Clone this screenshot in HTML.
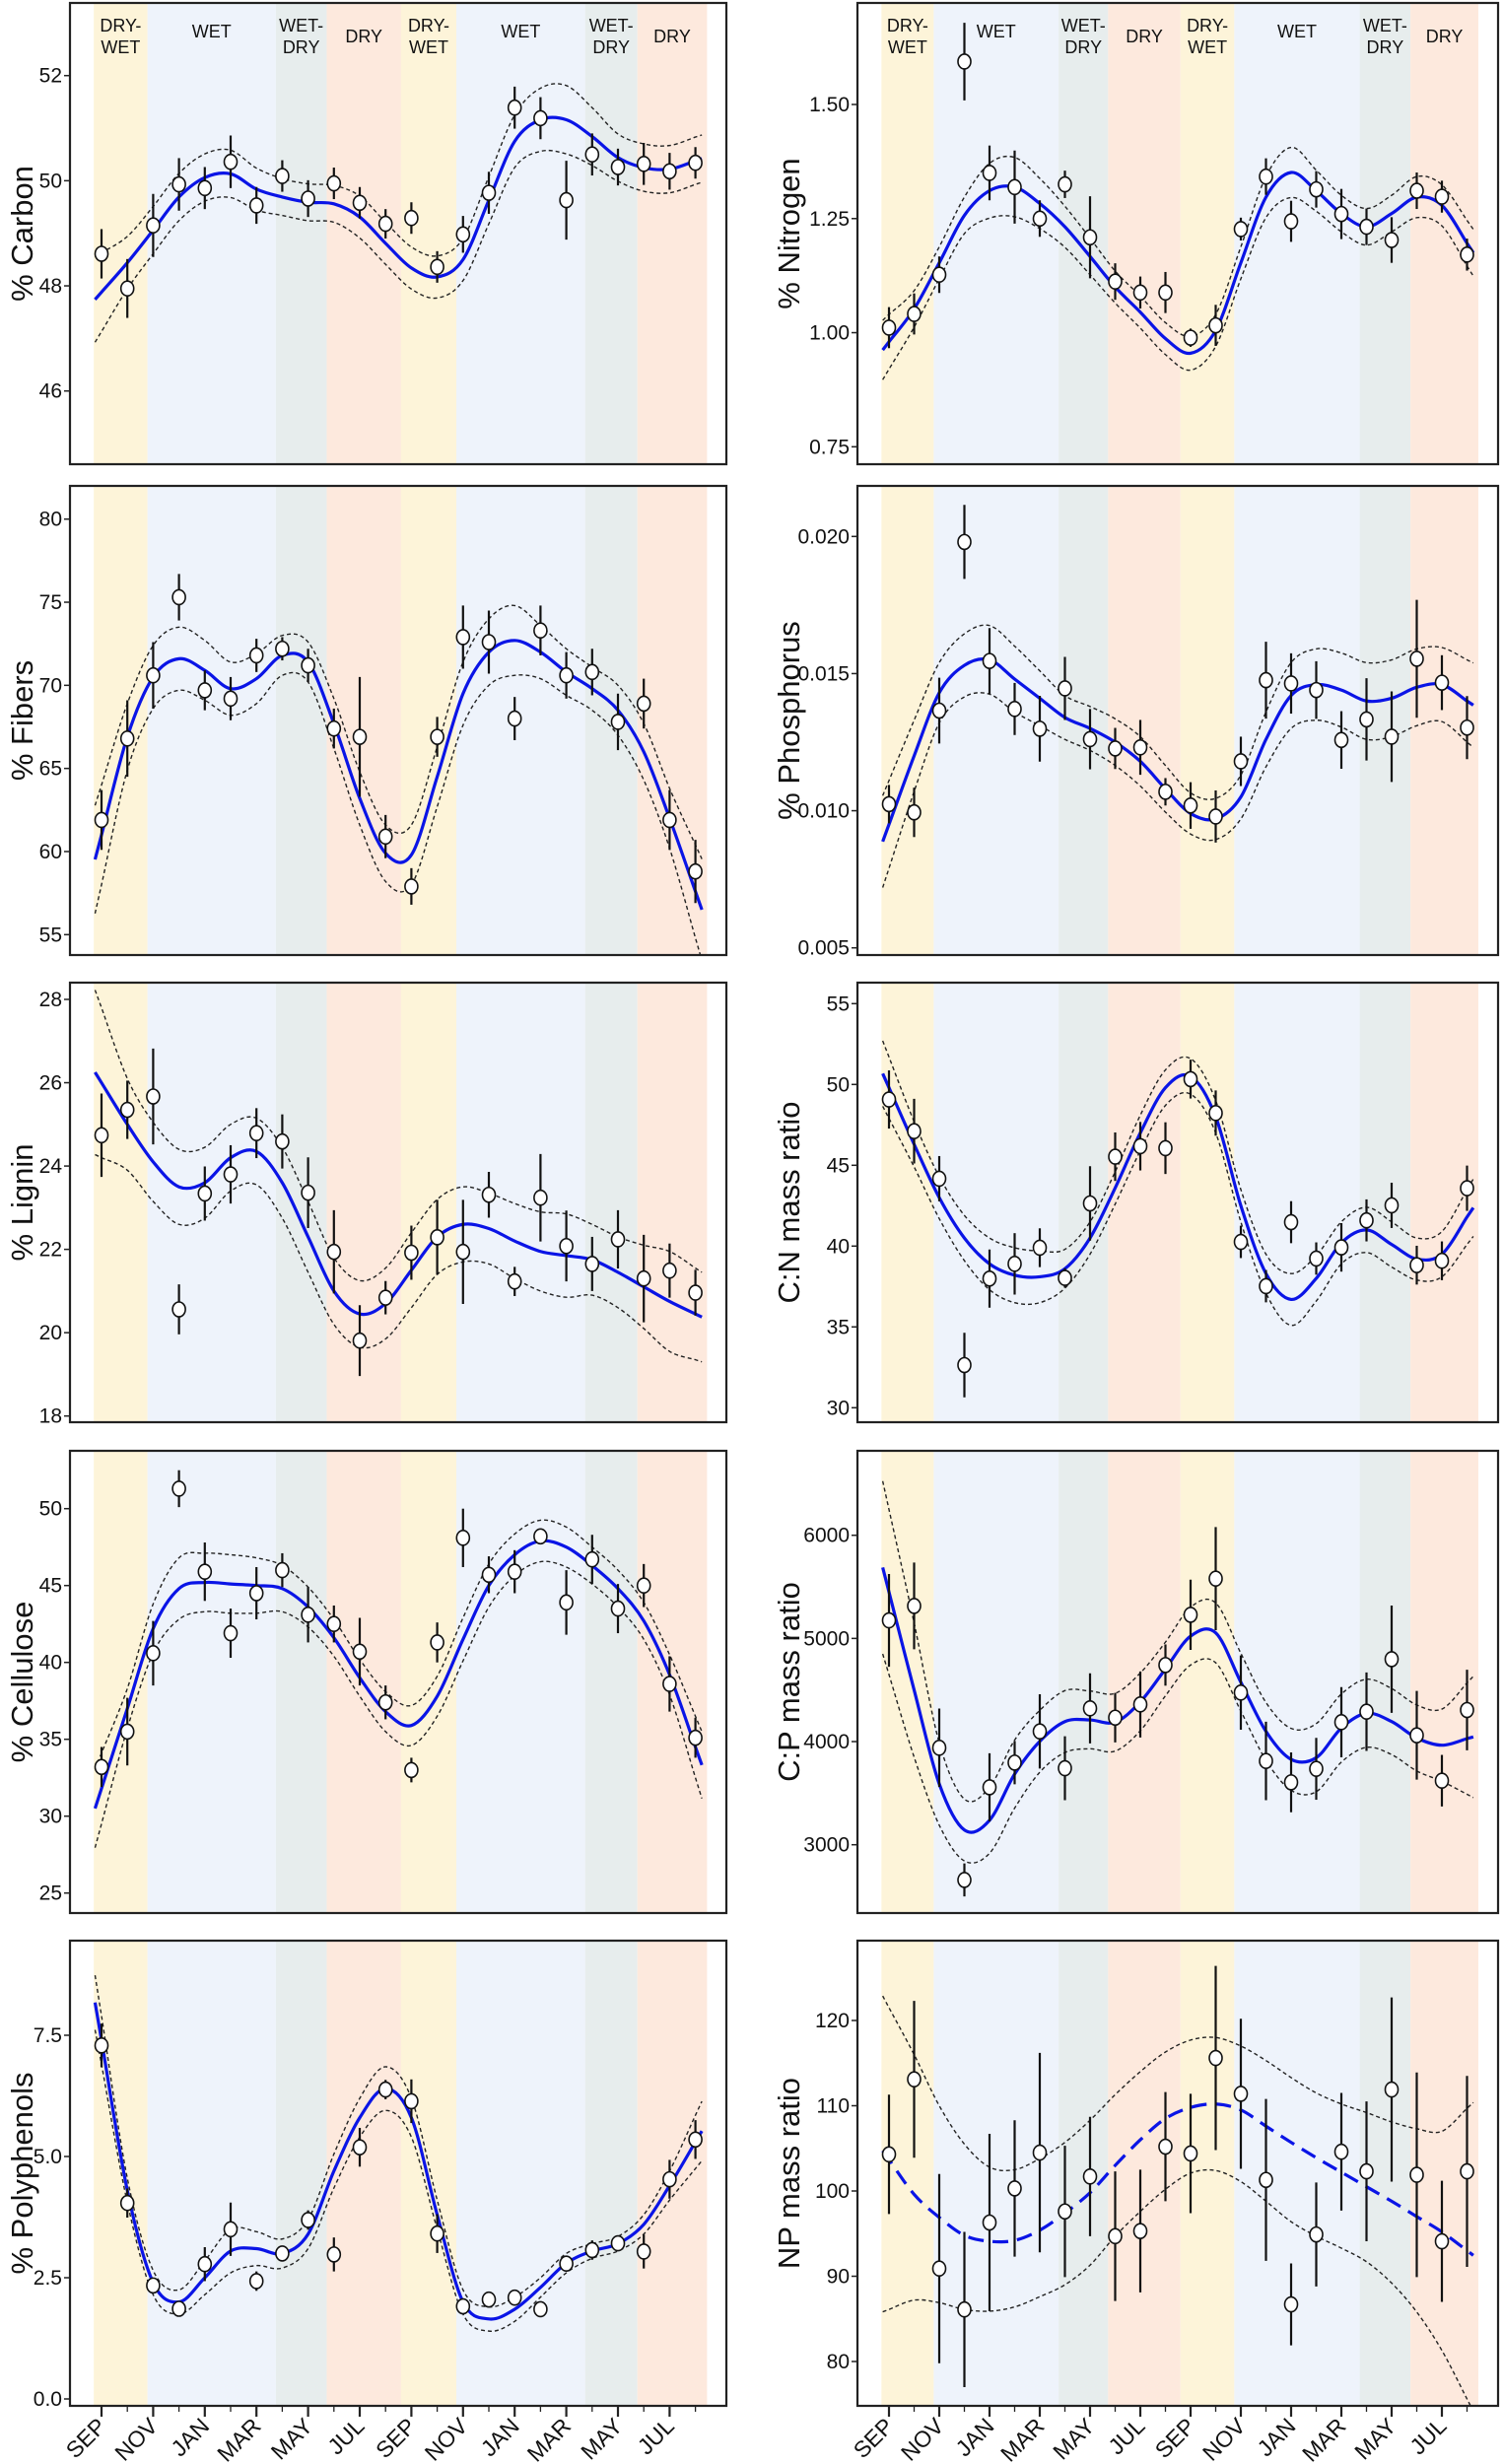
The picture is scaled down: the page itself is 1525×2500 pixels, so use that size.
<!DOCTYPE html>
<html><head><meta charset="utf-8">
<style>
html,body{margin:0;padding:0;background:#fff;}
svg{display:block;}
text{font-family:"Liberation Sans",sans-serif;}
.tick{font-family:"Liberation Sans Narrow","Liberation Sans",sans-serif;font-size:21px;fill:#111;}
.title{font-size:31px;fill:#111;}
.season{font-size:18px;fill:#111;}
.xl{font-family:"Liberation Sans Narrow","Liberation Sans",sans-serif;font-size:23px;fill:#111;}
</style></head>
<body>
<svg id="fig" width="1525" height="2500" viewBox="0 0 1525 2500" xmlns="http://www.w3.org/2000/svg"></svg>
<script>
// ---- shared categories ----
const monthLabels = ["SEP","NOV","JAN","MAR","MAY","JUL","SEP","NOV","JAN","MAR","MAY","JUL"];
const seasonNames = ["DRY-WET","WET","WET-DRY","DRY","DRY-WET","WET","WET-DRY","DRY"];
const seasonEdges = [-0.3,1.78,6.75,8.72,11.6,13.74,18.73,20.75,23.45];

// ---- Carbon ----
const carbonMean = [48.61,47.95,49.15,49.93,49.86,50.36,49.53,50.09,49.66,49.95,49.58,49.18,49.29,48.36,48.98,49.77,51.39,51.19,49.63,50.5,50.26,50.32,50.18,50.34];
const carbonErr = [0.47,0.56,0.6,0.5,0.4,0.5,0.35,0.3,0.35,0.3,0.3,0.28,0.3,0.3,0.35,0.4,0.4,0.4,0.75,0.4,0.35,0.4,0.35,0.3];
const carbonFit = [47.88,48.44,49.06,49.69,50.06,50.13,49.84,49.69,49.59,49.56,49.31,48.81,48.34,48.17,48.5,49.63,50.75,51.16,51.16,50.84,50.44,50.25,50.22,50.38];
const carbonCI = [0.75,0.5,0.45,0.45,0.45,0.45,0.4,0.35,0.35,0.35,0.4,0.4,0.4,0.4,0.4,0.45,0.5,0.6,0.65,0.55,0.45,0.45,0.45,0.45];
const carbonTicks = [46,48,50,52];

// ---- Fibers ----
const fiberMean = [61.9,66.8,70.6,75.3,69.7,69.2,71.8,72.2,71.2,67.4,66.9,60.9,57.9,66.9,72.9,72.6,68.0,73.3,70.6,70.8,67.8,68.9,61.9,58.8];
const fiberErr = [1.8,2.3,2.0,1.4,1.2,1.3,1.0,0.7,1.0,1.2,3.6,1.3,1.1,1.2,1.9,1.9,1.3,1.5,1.4,1.4,1.7,1.5,1.8,1.9];
const fiberFit = [61.0,66.9,70.5,71.6,70.9,69.8,70.4,71.8,71.4,67.7,63.2,59.9,59.8,64.5,69.5,72.0,72.7,72.0,70.8,69.8,68.5,66.0,62.0,57.6];
const fiberCI = [3.0,2.0,1.9,1.9,1.8,1.6,1.5,1.2,1.2,1.5,1.6,1.7,1.8,1.8,1.9,2.0,2.1,1.6,1.4,1.3,1.5,1.7,1.8,2.8];
const fiberTicks = [55,60,65,70,75,80];

// ---- Lignin ----
const ligninMean = [24.74,25.35,25.67,20.56,23.34,23.8,24.79,24.59,23.36,21.94,19.81,20.84,21.92,22.29,21.94,23.31,21.23,23.24,22.08,21.65,22.24,21.3,21.49,20.96];
const ligninErr = [1.0,0.7,1.15,0.6,0.65,0.7,0.6,0.65,0.85,1.0,0.85,0.4,0.65,0.9,1.25,0.55,0.35,1.05,0.85,0.65,0.7,1.05,0.65,0.55];
const ligninFit = [26.0,25.0,24.1,23.5,23.6,24.2,24.35,23.6,22.3,21.0,20.45,20.7,21.5,22.3,22.6,22.5,22.2,21.95,21.85,21.75,21.45,21.1,20.75,20.45];
const ligninCI = [1.8,1.1,0.95,0.9,0.85,0.8,0.8,0.85,0.85,0.8,0.8,0.85,0.9,0.9,0.9,0.85,0.9,0.95,1.0,0.85,0.85,1.0,1.2,1.1];
const ligninTicks = [18,20,22,24,26,28];

// ---- Cellulose ----
const celluloseMean = [33.2,35.5,40.6,51.3,45.9,41.9,44.5,46.0,43.1,42.5,40.7,37.4,33.0,41.3,48.1,45.7,45.9,48.2,43.9,46.7,43.5,45.0,38.6,35.1];
const celluloseErr = [1.3,2.2,2.1,1.2,1.9,1.6,1.7,1.1,1.8,1.2,2.2,1.1,0.8,1.3,1.9,1.2,1.4,0.5,2.1,1.6,1.6,1.4,1.8,1.3];
const celluloseFit = [31.8,37.0,42.2,44.8,45.2,45.1,45.0,44.8,43.6,41.6,39.0,36.8,35.9,37.8,41.5,45.0,47.0,47.9,47.5,46.3,44.8,42.7,39.2,34.5];
const celluloseCI = [2.3,1.3,1.6,2.0,1.9,1.9,1.8,1.5,1.3,1.2,1.2,1.3,1.3,1.3,1.4,1.4,1.35,1.35,1.3,1.2,1.2,1.2,1.3,2.0];
const celluloseTicks = [25,30,35,40,45,50];

// ---- Polyphenols ----
const polyMean = [7.29,4.04,2.34,1.86,2.78,3.5,2.43,3.0,3.69,2.98,5.19,6.38,6.14,3.41,1.91,2.05,2.09,1.85,2.79,3.07,3.21,3.04,4.53,5.35];
const polyErr = [0.45,0.3,0.1,0.1,0.35,0.55,0.2,0.15,0.2,0.35,0.4,0.2,0.45,0.4,0.05,0.15,0.05,0.1,0.1,0.2,0.1,0.35,0.4,0.4];
const polyFit = [7.4,4.3,2.4,2.0,2.5,3.05,3.1,3.0,3.4,4.7,5.8,6.4,5.8,3.8,2.0,1.65,1.85,2.3,2.8,3.05,3.2,3.6,4.4,5.3];
const polyCI = [0.5,0.25,0.25,0.25,0.35,0.45,0.35,0.3,0.3,0.35,0.4,0.45,0.4,0.3,0.25,0.25,0.25,0.2,0.2,0.15,0.15,0.2,0.3,0.55];
const polyTicks = [0,2.5,5,7.5];
const polyTickText = ["0.0","2.5","5.0","7.5"];

// ---- Nitrogen ----
const nitrogenMean = [1.011,1.041,1.127,1.594,1.35,1.319,1.25,1.325,1.209,1.112,1.088,1.088,0.989,1.016,1.227,1.342,1.244,1.314,1.26,1.232,1.203,1.311,1.298,1.171];
const nitrogenErr = [0.045,0.045,0.04,0.085,0.06,0.08,0.04,0.03,0.09,0.04,0.035,0.045,0.02,0.045,0.025,0.04,0.045,0.04,0.055,0.04,0.05,0.04,0.035,0.035];
const nitrogenFit = [0.98,1.052,1.153,1.257,1.311,1.319,1.283,1.232,1.167,1.10,1.045,0.987,0.955,1.005,1.153,1.297,1.351,1.311,1.261,1.232,1.261,1.297,1.279,1.196];
const nitrogenCI = [0.06,0.04,0.035,0.04,0.06,0.065,0.055,0.045,0.04,0.035,0.035,0.035,0.037,0.035,0.035,0.045,0.055,0.045,0.04,0.04,0.04,0.045,0.045,0.05];
const nitrogenTicks = [0.75,1.0,1.25,1.5];
const nitrogenTickText = ["0.75","1.00","1.25","1.50"];

// ---- Phosphorus ----
const phosMean = [0.01024,0.00994,0.01365,0.0198,0.01546,0.01371,0.01299,0.01446,0.01261,0.01227,0.01231,0.01069,0.01019,0.00979,0.0118,0.01476,0.01464,0.0144,0.01258,0.01333,0.0127,0.01554,0.01467,0.01303];
const phosErr = [0.0007,0.0009,0.0012,0.00135,0.0012,0.00095,0.0012,0.00115,0.0011,0.00075,0.001,0.0005,0.00085,0.00095,0.0009,0.0014,0.0011,0.00105,0.00105,0.0015,0.00165,0.00215,0.001,0.00115];
const phosFit = [0.0095,0.012,0.0143,0.0153,0.0155,0.0148,0.0141,0.0134,0.013,0.0125,0.0118,0.0108,0.0099,0.0097,0.0105,0.0126,0.0142,0.0146,0.0144,0.014,0.0141,0.0145,0.0146,0.014];
const phosCI = [0.0016,0.0013,0.0011,0.00115,0.00125,0.0012,0.001,0.0008,0.0008,0.00085,0.0009,0.00085,0.00075,0.00075,0.0008,0.001,0.0012,0.0013,0.00135,0.0014,0.0014,0.0014,0.00135,0.0015];
const phosTicks = [0.005,0.01,0.015,0.02];
const phosTickText = ["0.005","0.010","0.015","0.020"];

// ---- C:N ----
const cnMean = [49.07,47.11,44.17,32.64,37.99,38.9,39.9,38.03,42.64,45.53,46.18,46.06,50.33,48.23,40.26,37.52,41.48,39.23,39.92,41.59,42.52,38.82,39.09,43.58];
const cnErr = [1.8,2.0,1.4,2.0,1.8,1.9,1.2,0.6,2.3,1.5,1.5,1.6,1.2,1.4,1.0,1.0,1.3,1.0,1.5,1.3,1.4,1.2,1.2,1.4];
const cnFit = [49.8,46.3,43.0,40.5,38.9,38.2,38.1,38.6,40.5,43.6,47.0,49.8,50.5,48.0,42.5,38.3,36.7,38.0,40.2,41.0,40.1,39.2,39.5,41.8];
const cnCI = [1.9,1.4,1.3,1.4,1.6,1.7,1.6,1.2,1.0,1.0,1.1,1.1,1.1,1.0,1.0,1.2,1.6,1.4,1.3,1.4,1.4,1.3,1.4,1.7];
const cnTicks = [30,35,40,45,50,55];

// ---- C:P ----
const cpMean = [5175,5315,3940,2659,3557,3796,4099,3742,4322,4232,4360,4742,5229,5580,4475,3812,3605,3736,4188,4290,4799,4061,3621,4306];
const cpErr = [450,420,380,160,330,210,360,310,340,240,320,200,340,500,360,380,290,300,340,380,520,430,250,390];
const cpFit = [5450,4500,3590,3143,3237,3685,4003,4194,4210,4188,4385,4704,5022,5054,4576,4099,3828,3844,4131,4274,4194,4035,3965,4029];
const cpCI = [800,650,400,300,320,330,300,300,280,280,280,260,280,290,280,280,300,330,330,330,320,320,350,540];
const cpTicks = [3000,4000,5000,6000];

// ---- N:P ----
const npMean = [104.3,113.1,90.9,86.1,96.3,100.3,104.5,97.6,101.7,94.7,95.3,105.2,104.4,115.6,111.4,101.3,86.7,94.9,104.6,102.3,111.9,101.9,94.1,102.3];
const npErr = [7,9.2,11.1,9.1,10.4,8.0,11.7,7.7,7.0,7.6,7.2,6.4,7.0,10.8,8.8,9.5,4.8,6.1,6.9,8.2,10.8,12.0,7.1,11.2];
const npFit = [103.7,99.6,96.9,94.8,94.1,94.2,95.4,97.4,99.8,103.0,106.0,108.5,109.8,110.2,109.5,107.6,105.7,103.9,102.2,100.5,98.8,97.0,95.2,93.0];
const npUpper = [121.5,116,110,105.5,102.8,102.5,103.8,105.7,108.3,111.3,114,116.3,117.7,118,117,115.3,113.3,111.5,110.2,109.2,108.1,107.3,107.0,109.7];
const npLower = [86.1,87.2,86.9,86.1,85.9,86.4,87.6,89,91.3,94.7,97.6,100.2,102.1,102.4,101.1,98.8,96.4,94.7,93.3,91.7,89.2,85.8,81.3,75.6];
const npTicks = [80,90,100,110,120];

// ---- layout (pixels, not data) ----
const colL = {box:[71,737], x0:103, dm:26.2, titleX:22};
const colR = {box:[870,1520], x0:902, dm:25.5, titleX:800};
const rows = [[3,471],[493,969],[997,1443],[1472,1941],[1969,2441]];

const panels = [
 {name:"carbon",col:colL,row:0,title:"% Carbon",mean:carbonMean,err:carbonErr,fit:carbonFit,ci:carbonCI,ticks:carbonTicks,text:null,ref:[52,76.7,46,396.7]},
 {name:"fibers",col:colL,row:1,title:"% Fibers",mean:fiberMean,err:fiberErr,fit:fiberFit,ci:fiberCI,ticks:fiberTicks,text:null,ref:[80,526.7,55,948.3]},
 {name:"lignin",col:colL,row:2,title:"% Lignin",mean:ligninMean,err:ligninErr,fit:ligninFit,ci:ligninCI,ticks:ligninTicks,text:null,ref:[28,1014,18,1436.7]},
 {name:"cellulose",col:colL,row:3,title:"% Cellulose",mean:celluloseMean,err:celluloseErr,fit:celluloseFit,ci:celluloseCI,ticks:celluloseTicks,text:null,ref:[50,1530.7,25,1920.7]},
 {name:"polyphenols",col:colL,row:4,title:"% Polyphenols",mean:polyMean,err:polyErr,fit:polyFit,ci:polyCI,ticks:polyTicks,text:polyTickText,ref:[7.5,2065,0,2434]},
 {name:"nitrogen",col:colR,row:0,title:"% Nitrogen",mean:nitrogenMean,err:nitrogenErr,fit:nitrogenFit,ci:nitrogenCI,ticks:nitrogenTicks,text:nitrogenTickText,ref:[1.5,106,0.75,453.3]},
 {name:"phosphorus",col:colR,row:1,title:"% Phosphorus",mean:phosMean,err:phosErr,fit:phosFit,ci:phosCI,ticks:phosTicks,text:phosTickText,ref:[0.02,544.3,0.005,961.7]},
 {name:"cn-ratio",col:colR,row:2,title:"C:N mass ratio",mean:cnMean,err:cnErr,fit:cnFit,ci:cnCI,ticks:cnTicks,text:null,ref:[55,1018.3,30,1428.3]},
 {name:"cp-ratio",col:colR,row:3,title:"C:P mass ratio",mean:cpMean,err:cpErr,fit:cpFit,ci:cpCI,ticks:cpTicks,text:null,ref:[6000,1557.7,3000,1871.7]},
 {name:"np-ratio",col:colR,row:4,title:"NP mass ratio",mean:npMean,err:npErr,fit:npFit,up:npUpper,lo:npLower,ticks:npTicks,text:null,ref:[120,2050,80,2396],dashedFit:true}
];

const seasonColors = {"DRY-WET":"#fdf4d9","WET":"#eef3fb","WET-DRY":"#e7eded","DRY":"#fde9dd"};
const NS = "http://www.w3.org/2000/svg";
const svg = document.getElementById("fig");
const defs = document.createElementNS(NS, "defs");
svg.appendChild(defs);
function mk(tag, attrs, parent){
  const e = document.createElementNS(NS, tag);
  for (const k in attrs) e.setAttribute(k, attrs[k]);
  (parent||svg).appendChild(e);
  return e;
}
function smoothPath(pts){
  let d = "M"+pts[0][0].toFixed(2)+","+pts[0][1].toFixed(2);
  for (let i=0;i<pts.length-1;i++){
    const p0=pts[Math.max(0,i-1)], p1=pts[i], p2=pts[i+1], p3=pts[Math.min(pts.length-1,i+2)];
    const c1=[p1[0]+(p2[0]-p0[0])/6, p1[1]+(p2[1]-p0[1])/6];
    const c2=[p2[0]-(p3[0]-p1[0])/6, p2[1]-(p3[1]-p1[1])/6];
    d += " C"+c1[0].toFixed(2)+","+c1[1].toFixed(2)+" "+c2[0].toFixed(2)+","+c2[1].toFixed(2)+" "+p2[0].toFixed(2)+","+p2[1].toFixed(2);
  }
  return d;
}
function extend(vals){
  const n = vals.length;
  const s = vals[0] - (vals[1]-vals[0])*0.25;
  const e = vals[n-1] + (vals[n-1]-vals[n-2])*0.25;
  return {months:[-0.25].concat(vals.map((v,i)=>i)).concat([n-1+0.25]), vals:[s].concat(vals).concat([e])};
}

panels.forEach(function(p, pi){
  const c = p.col, r = rows[p.row];
  const xL=c.box[0], xR=c.box[1], yT=r[0], yB=r[1];
  const xs = m => c.x0 + m*c.dm;
  const ys = v => p.ref[1] + (v - p.ref[0])*(p.ref[3]-p.ref[1])/(p.ref[2]-p.ref[0]);
  const cp = mk("clipPath",{id:"clip"+pi},defs);
  mk("rect",{x:xL,y:yT,width:xR-xL,height:yB-yT},cp);
  const g = mk("g",{});
  
  
  const inner = mk("g",{"clip-path":"url(#clip"+pi+")"},g);
  
  

  // season bands
  for (let i=0;i<seasonNames.length;i++){
    const b = mk("rect",{x:xs(seasonEdges[i]),y:yT,width:xs(seasonEdges[i+1])-xs(seasonEdges[i]),height:yB-yT,fill:seasonColors[seasonNames[i]]},inner);
    
    
    if (p.row===0){
      const cx = (xs(seasonEdges[i])+xs(seasonEdges[i+1]))/2;
      const t = mk("text",{x:cx,"text-anchor":"middle",class:"season"},g);
      
      
      const nm = seasonNames[i];
      if (nm.indexOf("-")>0){
        const parts = nm.split("-");
        const a = mk("tspan",{x:cx,y:yT+29},t); a.textContent = parts[0]+"-";
        const b2 = mk("tspan",{x:cx,y:yT+51},t); b2.textContent = parts[1];
      } else {
        t.setAttribute("y", nm==="WET" ? yT+35 : yT+40);
        t.textContent = nm;
      }
    }
  }

  // CI lines
  let upV, loV;
  if (p.up){ upV=p.up; loV=p.lo; }
  else { upV=p.fit.map((v,i)=>v+p.ci[i]); loV=p.fit.map((v,i)=>v-p.ci[i]); }
  [["ci-upper",upV],["ci-lower",loV]].forEach(function(pair){
    const ex = extend(pair[1]);
    const path = mk("path",{d:smoothPath(ex.months.map((m,i)=>[xs(m),ys(ex.vals[i])])),fill:"none",stroke:"#222","stroke-width":1.4,"stroke-dasharray":"4,3"},inner);
    
    
  });
  // fit
  const exf = extend(p.fit);
  const fp = mk("path",{d:smoothPath(exf.months.map((m,i)=>[xs(m),ys(exf.vals[i])])),fill:"none",stroke:"#0a14e6","stroke-width":3.2},inner);
  if (p.dashedFit) fp.setAttribute("stroke-dasharray","16,9");
  
  

  // error bars & points
  p.mean.forEach(function(v,i){
    const x = xs(i);
    const eb = mk("line",{x1:x,x2:x,y1:ys(v-p.err[i]),y2:ys(v+p.err[i]),stroke:"#111","stroke-width":2.2},inner);
    
    
    const pt = mk("ellipse",{cx:x,cy:ys(v),rx:6.5,ry:7.5,fill:"#fff",stroke:"#111","stroke-width":1.6},inner);
    
    
  });

  // frame
  const fr = mk("rect",{x:xL,y:yT,width:xR-xL,height:yB-yT,fill:"none",stroke:"#222","stroke-width":2.2},g);
  
  

  // y ticks
  p.ticks.forEach(function(tv,i){
    const y = ys(tv);
    const tk = mk("line",{x1:xL-6,x2:xL,y1:y,y2:y,stroke:"#222","stroke-width":1.5},g);
    
    
    const tl = mk("text",{x:xL-8,y:y+7,"text-anchor":"end",class:"tick"},g);
    
    
    tl.textContent = p.text ? p.text[i] : String(tv);
  });
  // y title
  const ty = (yT+yB)/2;
  const tt = mk("text",{x:c.titleX,y:ty,"text-anchor":"middle",class:"title",transform:"rotate(-90 "+c.titleX+" "+ty+") translate(0 11)"},g);
  
  
  tt.textContent = p.title;

  // x axis on bottom row
  if (p.row===4){
    for (let m=0;m<24;m++){
      const x = xs(m);
      const major = m%2===0;
      const xt = mk("line",{x1:x,x2:x,y1:yB,y2:yB+(major?11:6),stroke:"#222","stroke-width":major?2.2:1.3},g);
      
      
      if (major){
        const lx = x+6, ly = yB+22;
        const xl = mk("text",{x:lx,y:ly,"text-anchor":"end",class:"xl",transform:"rotate(-45 "+lx+" "+ly+")"},g);
        
        
        xl.textContent = monthLabels[m/2];
      }
    }
  }
});
</script>
</body></html>
